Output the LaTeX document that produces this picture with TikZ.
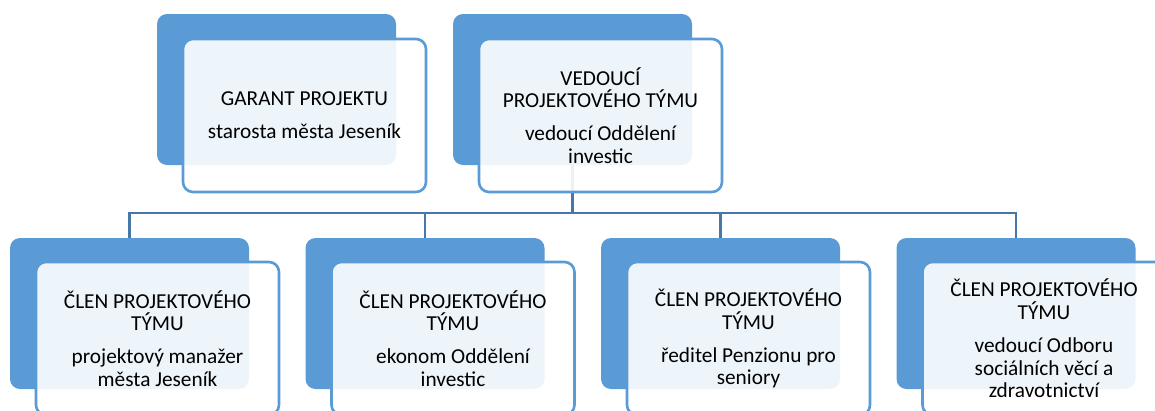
\documentclass[tikz,border=0pt]{standalone}
\usepackage{fontspec}
\setmainfont{Carlito}
\usepackage{xcolor}
\usepackage{tikz}
\usetikzlibrary{positioning}
\definecolor{Accent}{HTML}{5B9BD5}
\definecolor{Wire}{HTML}{4677A8}
\definecolor{Ink}{HTML}{000000}

\begin{document}
\begin{tikzpicture}[x=1pt, y=-1pt,
  backbox/.style={fill=Accent, rounded corners=10pt, minimum width=239pt,
    minimum height=151pt, inner sep=0pt, outer sep=0pt, anchor=north west},
  frontbox/.style={draw=Accent, line width=2.6pt, fill=white, fill opacity=0.9,
    text opacity=1, rounded corners=10pt, minimum width=243pt, minimum height=153pt,
    inner sep=0pt, outer sep=0pt, anchor=north west, align=center, text=Ink,
    font=\fontsize{21.3}{22.7}\selectfont},
  conn/.style={draw=Wire, line width=2.8pt}
]
  \useasboundingbox (0,0) rectangle (1155,410);
  \clip (0,0) rectangle (1155,410);

  % back boxes
  \node[backbox] (garB) at (157,14) {};
  \node[backbox] (vedB) at (453,14) {};
  \node[backbox] (clen1B) at (10,238) {};
  \node[backbox, right=56.5pt of clen1B] (clen2B) {};
  \node[backbox, right=56.5pt of clen2B] (clen3B) {};
  \node[backbox, right=56.5pt of clen3B] (clen4B) {};

  % connectors
  \coordinate (bus) at (0,213);
  \foreach \c in {clen1B,clen2B,clen3B,clen4B}
    \draw[conn] (vedB.south) -- (vedB.south |- bus) -| (\c.north);

  % front boxes
  \node[frontbox] (gar) at ([xshift=26pt,yshift=-25pt]garB.north west)
    {GARANT PROJEKTU\\[10pt]starosta města Jeseník};
  \node[frontbox] (ved) at ([xshift=26pt,yshift=-25pt]vedB.north west)
    {VEDOUCÍ\\PROJEKTOVÉHO TÝMU\\[10pt]vedoucí Oddělení\\investic};
  \node[frontbox] (clen1) at ([xshift=26pt,yshift=-24pt]clen1B.north west)
    {ČLEN PROJEKTOVÉHO\\TÝMU\\[10pt]projektový manažer\\města Jeseník};
  \node[frontbox] (clen2) at ([xshift=26pt,yshift=-24pt]clen2B.north west)
    {ČLEN PROJEKTOVÉHO\\TÝMU\\[10pt]ekonom Oddělení\\investic};
  \node[frontbox] (clen3) at ([xshift=26pt,yshift=-24pt]clen3B.north west)
    {ČLEN PROJEKTOVÉHO\\TÝMU\\[10pt]ředitel Penzionu pro\\seniory};
  \node[frontbox] (clen4) at ([xshift=26pt,yshift=-24pt]clen4B.north west)
    {ČLEN PROJEKTOVÉHO\\TÝMU\\[10pt]vedoucí Odboru\\sociálních věcí a\\zdravotnictví};
\end{tikzpicture}
\end{document}
